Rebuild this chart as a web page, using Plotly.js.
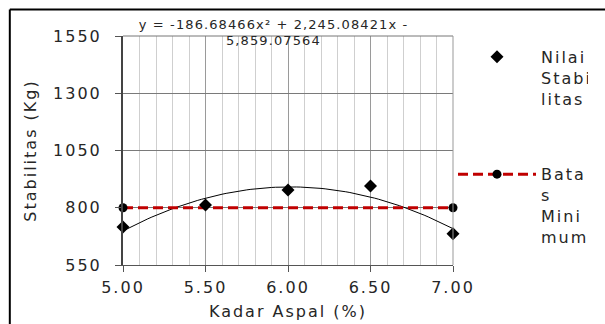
<!DOCTYPE html>
<html>
<head>
<meta charset="utf-8">
<script src="https://cdn.plot.ly/plotly-3.0.1.min.js"></script>
<style>
  html, body { margin: 0; padding: 0; background: #fff; }
  #chart { width: 605px; height: 324px; }
  #chart text { letter-spacing: 2px; }
  #chart .annotation-text { letter-spacing: 1.1px; }
</style>
</head>
<body>
<div id="chart"></div>
<script>
// ---- data ----
const kadarAspal = [5.0, 5.5, 6.0, 6.5, 7.0];
const nilaiStabilitas = [716, 812, 877, 895, 687];
const batasX = [5.0, 7.0];
const batasMinimum = [800, 800];
const yTicks = [550, 800, 1050, 1300, 1550];
const xTicks = [5.0, 5.5, 6.0, 6.5, 7.0];
const equationLines = ["y = -186.68466x² + 2,245.08421x -", "5,859.07564"];

// ---- polynomial (order 2) trendline fitted to the data, like Excel ----
function quadFit(xs, ys) {
  const S = [0, 0, 0, 0, 0], T = [0, 0, 0];
  for (let i = 0; i < xs.length; i++) {
    let p = 1;
    for (let k = 0; k < 5; k++) { S[k] += p; if (k < 3) T[k] += p * ys[i]; p *= xs[i]; }
  }
  const A = [[S[0], S[1], S[2], T[0]], [S[1], S[2], S[3], T[1]], [S[2], S[3], S[4], T[2]]];
  for (let c = 0; c < 3; c++) {
    for (let r = c + 1; r < 3; r++) {
      const f = A[r][c] / A[c][c];
      for (let k = c; k < 4; k++) A[r][k] -= f * A[c][k];
    }
  }
  const sol = [0, 0, 0];
  for (let r = 2; r >= 0; r--) {
    let s = A[r][3];
    for (let k = r + 1; k < 3; k++) s -= A[r][k] * sol[k];
    sol[r] = s / A[r][r];
  }
  return sol; // c0, c1, c2
}
const coef = quadFit(kadarAspal, nilaiStabilitas);
const xMin = Math.min(...kadarAspal), xMax = Math.max(...kadarAspal);
const trendX = [], trendY = [];
for (let i = 0; i <= 80; i++) {
  const x = xMin + (xMax - xMin) * i / 80;
  trendX.push(x);
  trendY.push(coef[0] + coef[1] * x + coef[2] * x * x);
}

const FONT = "DejaVu Sans, Arial, sans-serif";
const TXT = "#262626";

const traces = [
  { x: trendX, y: trendY, mode: "lines", type: "scatter",
    line: { color: "#000", width: 1 }, showlegend: false, hoverinfo: "skip" },
  { x: batasX, y: batasMinimum, mode: "lines+markers", type: "scatter",
    name: "Bata<br>s<br>Mini<br>mum", legendgroup: "b", legendrank: 2,
    line: { color: "#c00000", width: 3, dash: "10px,5px" },
    marker: { symbol: "circle", size: 9, color: "#000" }, cliponaxis: false },
  { x: kadarAspal, y: nilaiStabilitas, mode: "markers", type: "scatter",
    name: "Nilai<br>Stabi<br>litas", legendgroup: "a", legendrank: 1,
    marker: { symbol: "diamond", size: 10, color: "#000" }, cliponaxis: false }
];

const layout = {
  width: 605, height: 324,
  margin: { l: 123, r: 152, t: 36, b: 59 },
  paper_bgcolor: "#fff", plot_bgcolor: "#fff",
  font: { family: FONT, size: 16, color: TXT },
  xaxis: {
    range: [5, 7], tickvals: xTicks, tickformat: ".2f",
    ticks: "outside", ticklen: 6, tickcolor: "#555", tickwidth: 1,
    showline: true, linecolor: "#555", linewidth: 1,
    showgrid: true, gridcolor: "#9a9a9a", gridwidth: 1,
    minor: { dtick: 0.1, showgrid: true, gridcolor: "#cfcfcf", gridwidth: 1, ticks: "" },
    zeroline: false, ticklabelstandoff: 2,
    tickfont: { family: FONT, size: 16, color: TXT },
    title: { text: "Kadar Aspal (%)", font: { family: FONT, size: 16, color: TXT }, standoff: 9 }
  },
  yaxis: {
    range: [550, 1550], tickvals: yTicks,
    ticks: "outside", ticklen: 6, tickcolor: "#555", tickwidth: 1,
    showline: true, linecolor: "#444", linewidth: 2,
    showgrid: true, gridcolor: "#7a7a7a", gridwidth: 1,
    zeroline: false, ticklabelstandoff: 10,
    tickfont: { family: FONT, size: 16, color: TXT },
    title: { text: "Stabilitas (Kg)", font: { family: FONT, size: 16, color: TXT }, standoff: 20 }
  },
  legend: {
    x: 1.0, xanchor: "left", y: 0.983, yanchor: "top",
    itemwidth: 78, valign: "top", tracegroupgap: 52,
    traceorder: "grouped",
    font: { family: FONT, size: 16, color: TXT },
    bgcolor: "rgba(0,0,0,0)", borderwidth: 0
  },
  shapes: [
    // plot area frame (top and right edges)
    { type: "line", xref: "paper", yref: "paper", x0: 0, x1: 1, y0: 1, y1: 1, line: { color: "#777", width: 1 } },
    { type: "line", xref: "paper", yref: "paper", x0: 1, x1: 1, y0: 0, y1: 1, line: { color: "#999", width: 1 } },
    // chart outer border (top and left, rest cropped)
    { type: "line", xref: "paper", yref: "paper", x0: -0.343, x1: 1.5, y0: 1.116, y1: 1.116, line: { color: "#000", width: 2 } },
    { type: "line", xref: "paper", yref: "paper", x0: -0.343, x1: -0.343, y0: 1.116, y1: -0.3, line: { color: "#000", width: 2 } }
  ],
  annotations: [
    { xref: "paper", yref: "paper", x: 0.455, y: 1.05, xanchor: "center", yanchor: "middle",
      text: equationLines[0], showarrow: false, font: { family: FONT, size: 13, color: TXT } },
    { xref: "paper", yref: "paper", x: 0.455, y: 0.982, xanchor: "center", yanchor: "middle",
      text: equationLines[1], showarrow: false, font: { family: FONT, size: 13, color: TXT } }
  ],
  showlegend: true
};

Plotly.newPlot("chart", traces, layout, { staticPlot: true, displayModeBar: false });
</script>
</body>
</html>
